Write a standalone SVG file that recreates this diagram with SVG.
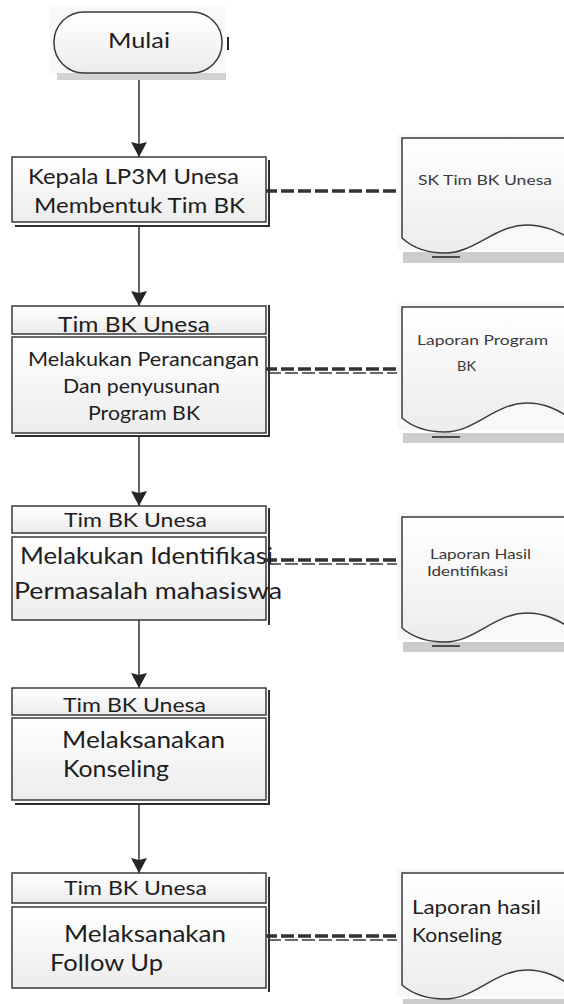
<svg xmlns="http://www.w3.org/2000/svg" width="564" height="1004" viewBox="0 0 564 1004">
<defs>
<linearGradient id="gfill" x1="0" y1="0" x2="0" y2="1">
<stop offset="0" stop-color="#ffffff"/>
<stop offset="1" stop-color="#ececec"/>
</linearGradient>
<marker id="arr" markerUnits="userSpaceOnUse" markerWidth="18" markerHeight="18" refX="16" refY="9" orient="auto">
<path d="M1,1 L16,9 L1,17 L3,9 z" fill="#262626"/>
</marker>
<style>
.box{fill:url(#gfill);stroke:#3a3a3a;stroke-width:1.5}
.bg{fill:#f8f8f8}
.sh{stroke:#2e2e2e;stroke-width:2;fill:none}
.flow{stroke:#333;stroke-width:1.5;fill:none;marker-end:url(#arr)}
.dash{stroke:#333;stroke-width:3.5;stroke-dasharray:13 4;fill:none}
.dash2{stroke:#3a3a3a;stroke-width:1.5;stroke-dasharray:13 4;fill:none}
.doc{fill:url(#gfill);stroke:#3a3a3a;stroke-width:1.5}
.dsh{fill:#cccccc}
text{font-family:Lato,"Liberation Sans",sans-serif;fill:#1e1e1e}
.dt{fill:#3a3a3a}
</style>
</defs>

<g id="connectors">
<line class="flow" x1="139" y1="73" x2="139" y2="157"/>
<line class="flow" x1="139" y1="226" x2="139" y2="306"/>
<line class="flow" x1="139" y1="436" x2="139" y2="506"/>
<line class="flow" x1="139" y1="620" x2="139" y2="688"/>
<line class="flow" x1="139" y1="804" x2="139" y2="873"/>
<line class="dash" x1="264" y1="191" x2="402" y2="191"/>
<line class="dash" x1="264" y1="369" x2="402" y2="369"/>
<line class="dash2" x1="268" y1="373" x2="402" y2="373"/>
<line class="dash" x1="264" y1="560" x2="402" y2="560"/>
<line class="dash2" x1="268" y1="564" x2="402" y2="564"/>
<line class="dash" x1="264" y1="936" x2="402" y2="936"/>
<line class="dash2" x1="268" y1="940" x2="402" y2="940"/>
</g>

<g id="mulai">
<rect class="bg" x="50" y="7" width="176" height="66"/>
<rect x="57" y="73" width="169" height="7" fill="#d2d2d2"/>
<rect class="box" x="54" y="12" width="168" height="61" rx="30" ry="30"/>
<line x1="228" y1="37" x2="228" y2="50" stroke="#222" stroke-width="2"/>
<text x="139" y="48" font-size="22" text-anchor="middle" textLength="62" lengthAdjust="spacingAndGlyphs">Mulai</text>
</g>

<g id="kepala">
<rect class="box" x="12" y="157" width="254" height="65"/>
<polyline class="sh" points="269,160 269,226 15,226"/>
<text x="28" y="184" font-size="21" textLength="211" lengthAdjust="spacingAndGlyphs">Kepala LP3M Unesa</text>
<text x="34" y="213" font-size="21" textLength="211" lengthAdjust="spacingAndGlyphs">Membentuk Tim BK</text>
</g>

<g id="perancangan">
<rect class="box" x="12" y="306" width="254" height="28"/>
<rect class="box" x="12" y="337" width="254" height="96"/>
<polyline class="sh" points="269,305 269,436 15,436"/>
<text x="58" y="332" font-size="22" textLength="152" lengthAdjust="spacingAndGlyphs">Tim BK Unesa</text>
<text x="28" y="366" font-size="19" textLength="231" lengthAdjust="spacingAndGlyphs">Melakukan Perancangan</text>
<text x="63" y="393" font-size="19" textLength="157" lengthAdjust="spacingAndGlyphs">Dan penyusunan</text>
<text x="88" y="420" font-size="19" textLength="112" lengthAdjust="spacingAndGlyphs">Program BK</text>
</g>

<g id="identifikasi">
<rect class="box" x="12" y="506" width="254" height="27"/>
<rect class="box" x="12" y="537" width="254" height="83"/>
<line class="sh" x1="269" y1="508" x2="269" y2="625"/>
<text x="64" y="527" font-size="19" textLength="143" lengthAdjust="spacingAndGlyphs">Tim BK Unesa</text>
<text x="20" y="564" font-size="24" textLength="253" lengthAdjust="spacingAndGlyphs">Melakukan Identifikasi</text>
<text x="14" y="599" font-size="24" textLength="268" lengthAdjust="spacingAndGlyphs">Permasalah mahasiswa</text>
</g>

<g id="konseling">
<rect class="box" x="12" y="688" width="254" height="27"/>
<rect class="box" x="12" y="718" width="254" height="82"/>
<polyline class="sh" points="269,690 269,804 15,804"/>
<text x="63" y="712" font-size="19" textLength="143" lengthAdjust="spacingAndGlyphs">Tim BK Unesa</text>
<text x="62" y="748" font-size="24" textLength="163" lengthAdjust="spacingAndGlyphs">Melaksanakan</text>
<text x="63" y="777" font-size="24" textLength="106" lengthAdjust="spacingAndGlyphs">Konseling</text>
</g>

<g id="followup">
<rect class="box" x="12" y="873" width="254" height="30"/>
<rect class="box" x="12" y="907" width="254" height="81"/>
<line class="sh" x1="269" y1="877" x2="269" y2="992"/>
<text x="64" y="895" font-size="19" textLength="143" lengthAdjust="spacingAndGlyphs">Tim BK Unesa</text>
<text x="64" y="942" font-size="24" textLength="162" lengthAdjust="spacingAndGlyphs">Melaksanakan</text>
<text x="50" y="971" font-size="24" textLength="113" lengthAdjust="spacingAndGlyphs">Follow Up</text>
</g>

<g id="doc-sk">
<rect class="bg" x="397" y="134" width="167" height="116"/>
<rect class="dsh" x="403" y="252" width="161" height="11"/>
<line x1="432" y1="257" x2="460" y2="257" stroke="#222" stroke-width="1.5"/>
<path class="doc" d="M402,238 V138 H570 V238 C558,232 545,225 527,225 C495,225 475,253 445,253 C430,253 415,250 402,238 Z"/>
<text class="dt" x="418" y="185" font-size="13" textLength="134" lengthAdjust="spacingAndGlyphs">SK Tim BK Unesa</text>
</g>

<g id="doc-program">
<rect class="bg" x="397" y="303" width="167" height="127"/>
<rect class="dsh" x="403" y="433" width="161" height="10"/>
<line x1="432" y1="437" x2="460" y2="437" stroke="#222" stroke-width="1.5"/>
<path class="doc" d="M402,418 V307 H570 V418 C558,410 545,403 527,403 C495,403 475,432 445,432 C430,432 415,429 402,418 Z"/>
<text class="dt" x="417" y="345" font-size="13" textLength="131" lengthAdjust="spacingAndGlyphs">Laporan Program</text>
<text class="dt" x="457" y="371" font-size="13" textLength="19" lengthAdjust="spacingAndGlyphs">BK</text>
</g>

<g id="doc-identifikasi">
<rect class="bg" x="397" y="513" width="167" height="127"/>
<rect class="dsh" x="403" y="642" width="161" height="10"/>
<line x1="432" y1="646" x2="460" y2="646" stroke="#222" stroke-width="1.5"/>
<path class="doc" d="M402,628 V517 H570 V628 C558,620 545,613 527,613 C495,613 475,642 445,642 C430,642 415,639 402,628 Z"/>
<text class="dt" x="430" y="559" font-size="12.5" textLength="101" lengthAdjust="spacingAndGlyphs">Laporan Hasil</text>
<text class="dt" x="427" y="576" font-size="12.5" textLength="81" lengthAdjust="spacingAndGlyphs">Identifikasi</text>
</g>

<g id="doc-konseling">
<rect class="bg" x="397" y="869" width="167" height="127"/>
<rect class="dsh" x="403" y="999" width="161" height="5"/>
<path class="doc" d="M402,985 V873 H570 V985 C558,977 545,970 527,970 C495,970 475,999 445,999 C430,999 415,996 402,985 Z"/>
<text x="412" y="914" font-size="19" textLength="129" lengthAdjust="spacingAndGlyphs">Laporan hasil</text>
<text x="412" y="942" font-size="19" textLength="90" lengthAdjust="spacingAndGlyphs">Konseling</text>
</g>
</svg>
